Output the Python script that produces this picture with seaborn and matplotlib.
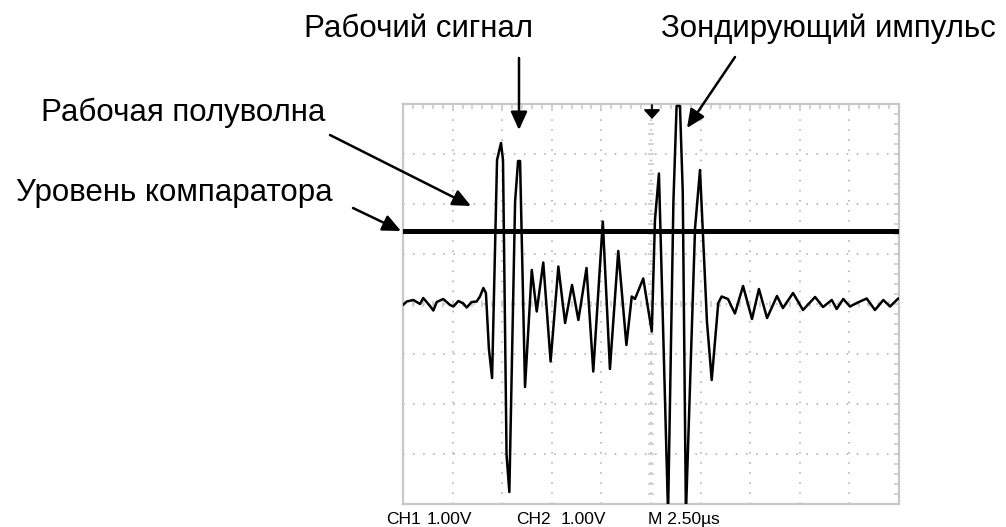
import numpy as np
import matplotlib
matplotlib.use('Agg')
from matplotlib import pyplot as plt
import seaborn as sns

# CH1 trace: time in us (2.50 us/div), level in V (1.00 V/div)
sig_t = [0.00, 0.19, 0.52, 0.86, 1.02, 1.36, 1.53, 1.70, 2.03, 2.37, 2.54, 2.79, 3.04, 3.21,
         3.46, 3.71, 3.88, 4.05, 4.18, 4.33, 4.49, 4.74, 4.94, 5.04, 5.22, 5.36, 5.65, 5.80,
         5.90, 6.15, 6.49, 6.74, 7.07, 7.44, 7.83, 8.17, 8.52, 8.84, 9.25, 9.59, 10.07, 10.43,
         10.85, 11.26, 11.53, 11.69, 12.11, 12.54, 12.70, 12.90, 13.36, 13.63, 13.79, 13.96,
         14.10, 14.26, 14.72, 14.97, 15.32, 15.56, 15.89, 16.06, 16.38, 16.73, 17.14, 17.59,
         17.94, 18.35, 18.85, 19.15, 19.66, 20.16, 20.77, 21.17, 21.61, 21.86, 22.19, 22.53,
         22.87, 23.37, 23.79, 24.21, 24.55, 24.96]
sig_v = [-0.02, 0.05, 0.08, 0.00, 0.12, -0.04, -0.13, 0.04, 0.10, -0.02, -0.05, 0.06, 0.01, -0.07,
         0.04, 0.05, 0.15, 0.32, 0.22, -0.90, -1.48, 2.88, 3.22, 2.88, -3.02, -3.76, 2.05, 2.86,
         2.86, -1.66, 0.68, -0.15, 0.83, -1.15, 0.75, -0.38, 0.38, -0.32, 0.72, -1.35, 1.65, -1.30,
         1.06, -0.82, 0.15, 0.10, 0.51, -0.55, 1.68, 2.61, -4.20, 2.05, 3.96, 3.96,
         2.25, -4.20, 1.52, 2.68, -0.35, -1.52, 0.02, 0.15, 0.10, -0.19, 0.36, -0.30,
         0.30, -0.28, 0.16, -0.08, 0.22, -0.12, 0.14, -0.06, 0.08, -0.10, 0.10, -0.05,
         0.02, 0.11, -0.12, 0.08, -0.05, 0.11]

# CH2: comparator level
comp_t = [0.0, 25.0]
comp_v = [1.46, 1.46]

W, H = 1006, 527
frame_col = '#c8c8c8'
dot_col = '#a8a8a8'

sns.set_style('white')
plt.rcParams['font.family'] = ['Liberation Sans', 'DejaVu Sans']
plt.rcParams['text.color'] = 'black'

fig = plt.figure(figsize=(W / 100, H / 100), dpi=100)
ax = fig.add_axes([403 / W, (H - 504) / H, 496 / W, 400 / H])

sns.lineplot(x=sig_t, y=sig_v, sort=False, estimator=None, color='black', linewidth=1.8, ax=ax, zorder=3)
sns.lineplot(x=comp_t, y=comp_v, sort=False, estimator=None, color='black', linewidth=3.6, ax=ax, zorder=4)

ax.set_xlim(0, 25)
ax.set_ylim(-4, 4)
ax.set_xlabel('')
ax.set_ylabel('')

# scope graticule
ax.set_xticks(np.arange(0, 25.01, 2.5))
ax.set_xticks(np.arange(0, 25.01, 0.5), minor=True)
ax.set_yticks(np.arange(-4, 4.01, 1.0))
ax.set_yticks(np.arange(-4, 4.01, 0.2), minor=True)
ax.tick_params(which='both', direction='in', length=3.8, width=1.1, color=frame_col,
               top=True, right=True, labelbottom=False, labelleft=False)
ax.grid(which='major', color=dot_col, linestyle=(0, (1, 5.6)), linewidth=1.1, zorder=1)
for s in ax.spines.values():
    s.set_color(frame_col)
    s.set_linewidth(1.6)
ax.plot(np.full(41, 12.5), np.arange(-4, 4.01, 0.2), ls='none', marker='_', ms=4.5, mew=1.1,
        color=frame_col, zorder=2)
ax.plot(np.arange(0, 25.01, 0.5), np.zeros(51), ls='none', marker='|', ms=4.5, mew=1.1,
        color=frame_col, zorder=2)


def px(x, y):
    return (x, H - y)


# trigger marker
ax.annotate('', xy=px(652, 119), xycoords='figure pixels', xytext=px(652, 105), textcoords='figure pixels',
            arrowprops=dict(arrowstyle='-|>,head_length=0.55,head_width=0.5', color='black', lw=1.3,
                            shrinkA=0, shrinkB=0), annotation_clip=False)

# callouts
arrow_kw = dict(arrowstyle='-|>,head_length=1.1,head_width=0.5', color='black', lw=1.8,
                shrinkA=0, shrinkB=0)
callouts = [
    ('Рабочий сигнал', 418, 37, (519, 58), (519, 130)),
    ('Зондирующий импульс', 828, 37, (735, 57), (687, 128)),
    ('Рабочая полуволна', 183, 121, (330, 135), (471, 206)),
    ('Уровень компаратора', 174, 201, (353, 208), (401, 231)),
]
for txt, tx, ty, start, tip in callouts:
    fig.text(tx / W, 1 - ty / H, txt, fontsize=22.5, color='black', ha='center', va='baseline')
    ax.annotate('', xy=px(*tip), xycoords='figure pixels', xytext=px(*start), textcoords='figure pixels',
                arrowprops=arrow_kw, annotation_clip=False)

# scope readout
readout = [('CH1', 386), ('1.00V', 427), ('CH2', 516), ('1.00V', 561), ('M 2.50µs', 648)]
for txt, x in readout:
    fig.text(x / W, 1 - 524 / H, txt, fontsize=12.5, color='black', ha='left', va='baseline')

fig.savefig('out.png', dpi=100)
